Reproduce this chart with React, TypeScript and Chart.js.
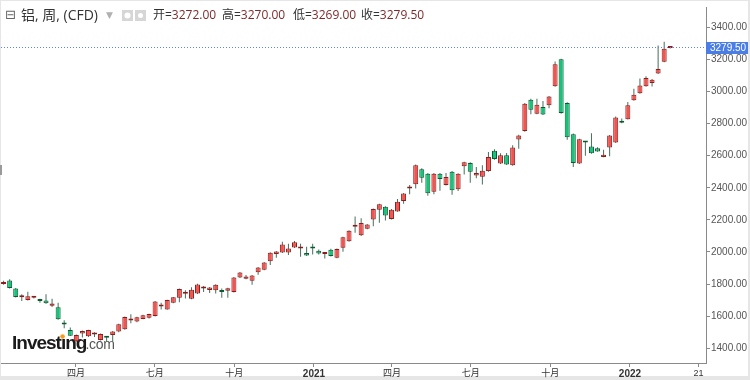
import { useEffect, useRef } from 'react';
import { Chart, registerables } from 'chart.js';

Chart.register(...registerables);

// ---------- data ----------
const firstWeekStart = '2020-01-05';

const opens = [
  1800, 1823, 1772, 1718, 1701, 1715, 1697, 1698, 1665, 1655, 1553, 1513, 1443, 1492, 1474, 1486, 1452, 1470, 1482, 1505,
  1519, 1573, 1566, 1583, 1590, 1601, 1660, 1642, 1683, 1714, 1740, 1708, 1741, 1772, 1763, 1761, 1755, 1759, 1751, 1841,
  1833, 1821, 1874, 1889, 1942, 1987, 1997, 1997, 2028, 2022, 1993, 2026, 2007, 1987, 2014, 1964, 2026, 2067, 2158, 2104,
  2145, 2202, 2264, 2282, 2206, 2252, 2317, 2395, 2422, 2516, 2487, 2375, 2487, 2418, 2500, 2391, 2535, 2555, 2477, 2469,
  2504, 2631, 2551, 2603, 2541, 2701, 2754, 2949, 2861, 2904, 2914, 3033, 3201, 2929, 2734, 2551, 2686, 2658, 2647, 2592,
  2652, 2682, 2818, 2828, 2945, 2990, 3033, 3054, 3113, 3185, 3272,
];
const highs = [
  1820, 1830, 1775, 1736, 1752, 1722, 1708, 1736, 1708, 1683, 1575, 1530, 1485, 1510, 1515, 1500, 1492, 1472, 1508, 1553,
  1598, 1612, 1596, 1608, 1615, 1695, 1683, 1703, 1720, 1772, 1762, 1780, 1802, 1788, 1781, 1799, 1772, 1777, 1844, 1875,
  1856, 1857, 1906, 1938, 1998, 2006, 2063, 2052, 2069, 2052, 2032, 2052, 2015, 2000, 2020, 2021, 2095, 2135, 2221, 2210,
  2175, 2271, 2301, 2285, 2268, 2330, 2367, 2418, 2545, 2522, 2492, 2492, 2492, 2492, 2505, 2490, 2562, 2560, 2530, 2541,
  2623, 2640, 2615, 2617, 2665, 2730, 2928, 2955, 2955, 2941, 2972, 3187, 3205, 2933, 2738, 2706, 2687, 2740, 2653, 2637,
  2729, 2845, 2832, 2935, 3017, 3082, 3095, 3078, 3287, 3310, 3281,
];
const lows = [
  1795, 1772, 1717, 1695, 1698, 1710, 1684, 1678, 1657, 1578, 1525, 1476, 1440, 1467, 1470, 1470, 1448, 1440, 1443, 1500,
  1515, 1556, 1562, 1580, 1585, 1598, 1642, 1640, 1680, 1687, 1710, 1705, 1738, 1751, 1745, 1741, 1714, 1714, 1748, 1838,
  1830, 1796, 1858, 1886, 1919, 1964, 1994, 1981, 2025, 1970, 1975, 1985, 1985, 1960, 1972, 1961, 2001, 2064, 2120, 2100,
  2142, 2161, 2182, 2196, 2203, 2250, 2300, 2360, 2395, 2432, 2350, 2360, 2381, 2415, 2356, 2380, 2483, 2432, 2460, 2421,
  2500, 2575, 2548, 2542, 2538, 2643, 2750, 2858, 2858, 2854, 2896, 3030, 2862, 2699, 2529, 2548, 2600, 2612, 2624, 2590,
  2596, 2680, 2802, 2825, 2942, 2987, 3030, 3031, 3110, 3182, 3269,
];
const closes = [
  1810, 1775, 1720, 1726, 1724, 1717, 1694, 1681, 1679, 1581, 1548, 1478, 1482, 1507, 1513, 1492, 1489, 1465, 1505, 1550,
  1595, 1580, 1593, 1605, 1613, 1692, 1665, 1700, 1718, 1769, 1745, 1765, 1798, 1784, 1778, 1796, 1750, 1774, 1841, 1872,
  1847, 1853, 1903, 1935, 1995, 2003, 2046, 2022, 2060, 2030, 1978, 2022, 1991, 1997, 1975, 2018, 2092, 2132, 2163, 2180,
  2172, 2268, 2298, 2227, 2264, 2313, 2364, 2402, 2541, 2463, 2366, 2487, 2455, 2467, 2385, 2487, 2559, 2500, 2493, 2506,
  2592, 2580, 2603, 2545, 2652, 2726, 2924, 2887, 2918, 2857, 2969, 3170, 2866, 2715, 2555, 2703, 2682, 2615, 2627, 2606,
  2726, 2838, 2805, 2914, 2980, 3037, 3084, 3074, 3140, 3267, 3279.5,
];

const tickDates = ['2020-04-01', '2020-07-01', '2020-10-01', '2021-01-01', '2021-04-01', '2021-07-01', '2021-10-01', '2022-01-01', '2022-03-21'];
const tickLabels = ['四月', '七月', '十月', '2021', '四月', '七月', '十月', '2022', '21'];
const yTickValues = [1400, 1600, 1800, 2000, 2200, 2400, 2600, 2800, 3000, 3200, 3400];
const lastPrice = 3279.5;
const headerTitle = '铝, 周, (CFD)';
const headerLabels = ['开=', '高=', '低=', '收='];
const headerValues = ['3272.00', '3270.00', '3269.00', '3279.50'];

// ---------- helpers ----------
const dayNum = (s: string) => {
  const [y, m, d] = s.split('-').map(Number);
  return (Date.UTC(y, m - 1, d) - Date.UTC(2020, 0, 1)) / 86400000;
};

const UP_FILL = '#f2544f';
const UP_BORDER = '#8c1c1c';
const DOWN_FILL = '#14c47a';
const DOWN_BORDER = '#0b5a32';
const WICK = '#44705a';
const UI_FONT = '"Open Sans", "Noto Sans CJK SC", sans-serif';
const AXIS_FONT = '"Liberation Sans", Arial, "Noto Sans CJK SC", sans-serif';
const LOGO_FONT = '"Liberation Sans", Arial, sans-serif';

export default function App() {
  const ref = useRef<HTMLCanvasElement>(null);

  useEffect(() => {
    document.body.style.margin = '0';
    const canvas = ref.current;
    if (!canvas) return;

    const start = dayNum(firstWeekStart);
    const centers = opens.map((_, i) => start + 7 * i + 3.5);
    const isUp = opens.map((o, i) => closes[i] >= o);

    const bgPlugin = {
      id: 'bg',
      beforeDraw(chart: any) {
        const ctx = chart.ctx;
        ctx.save();
        ctx.fillStyle = '#e6e6e6';
        ctx.fillRect(0, 0, chart.width, chart.height);
        ctx.fillStyle = '#ffffff';
        ctx.fillRect(1, 1, chart.width - 3, chart.height - 5);
        ctx.fillStyle = '#9a9a9a';
        ctx.fillRect(0, 165, 2, 10);
        ctx.restore();
      },
    };

    const logoPlugin = {
      id: 'logo',
      beforeDatasetsDraw(chart: any) {
        const ctx = chart.ctx;
        ctx.save();
        ctx.textBaseline = 'alphabetic';
        ctx.textAlign = 'left';
        ctx.font = `bold 19px ${LOGO_FONT}`;
        try { (ctx as any).letterSpacing = '-1px'; } catch (e) {}
        ctx.fillStyle = '#1b1b1b';
        const x0 = 12;
        const base = 349;
        ctx.fillText('Investing', x0, base);
        const w = ctx.measureText('Investing').width;
        const wi = ctx.measureText('Invest').width;
        const wii = ctx.measureText('i').width;
        ctx.fillStyle = '#ffffff';
        ctx.fillRect(x0 + wi - 0.5, base - 15, wii + 0.5, 4.5);
        ctx.fillStyle = '#f39c1e';
        ctx.beginPath();
        ctx.arc(x0 + wi + wii / 2 - 0.5, base - 12.5, 2.3, 0, Math.PI * 2);
        ctx.fill();
        try { (ctx as any).letterSpacing = '-0.3px'; } catch (e) {}
        ctx.font = `14px ${LOGO_FONT}`;
        ctx.fillStyle = '#555555';
        ctx.fillText('.com', x0 + w - 1, base);
        ctx.restore();
      },
    };

    const overlayPlugin = {
      id: 'overlay',
      afterDraw(chart: any) {
        const ctx = chart.ctx;
        const area = chart.chartArea;
        const yScale = chart.scales.y;
        const yp = Math.round(yScale.getPixelForValue(lastPrice)) + 0.5;
        ctx.save();
        // dotted last price line
        ctx.strokeStyle = '#5f86e6';
        ctx.lineWidth = 1;
        ctx.setLineDash([1, 2]);
        ctx.beginPath();
        ctx.moveTo(area.left, yp);
        ctx.lineTo(area.right, yp);
        ctx.stroke();
        ctx.setLineDash([]);
        // price label
        ctx.fillStyle = '#4a7ee6';
        ctx.fillRect(area.right, yp - 5.5, 42, 12);
        ctx.fillStyle = '#ffffff';
        ctx.font = `10px ${AXIS_FONT}`;
        ctx.textBaseline = 'middle';
        ctx.textAlign = 'left';
        ctx.fillText(lastPrice.toFixed(2), area.right + 4, yp + 0.5);

        // header
        const hy = 16;
        ctx.font = `13px "DejaVu Sans", sans-serif`;
        ctx.fillStyle = '#666666';
        ctx.fillText('⊟', 5, hy);
        ctx.font = `14px ${UI_FONT}`;
        ctx.fillStyle = '#333333';
        ctx.fillText(headerTitle, 21, hy);
        ctx.font = `9px "DejaVu Sans", sans-serif`;
        ctx.fillStyle = '#b0b0b0';
        ctx.fillText('▼', 106, hy);
        // icons
        ctx.fillStyle = '#d6d6d6';
        ctx.fillRect(122, 10, 11, 11);
        ctx.fillRect(135, 10, 11, 11);
        ctx.fillStyle = '#ffffff';
        ctx.beginPath();
        ctx.arc(127.5, 15.5, 3, 0, Math.PI * 2);
        ctx.fill();
        ctx.beginPath();
        ctx.arc(140.5, 15.5, 2.5, 0, Math.PI * 2);
        ctx.fill();
        // fields
        const fx = [153, 222, 293, 361];
        ctx.font = `12px ${UI_FONT}`;
        headerLabels.forEach((lab, i) => {
          ctx.fillStyle = '#333333';
          ctx.fillText(lab, fx[i], hy);
          const lw = ctx.measureText(lab).width;
          ctx.fillStyle = '#7d2a2a';
          ctx.fillText(headerValues[i], fx[i] + lw, hy);
        });
        ctx.restore();
      },
    };

    const chart = new Chart(canvas, {
      type: 'bar',
      data: {
        datasets: [
          {
            label: 'body',
            data: centers.map((x, i) => ({ x, y: [opens[i], closes[i]] })) as any,
            backgroundColor: isUp.map((u) => (u ? UP_FILL : DOWN_FILL)),
            borderColor: isUp.map((u) => (u ? UP_BORDER : DOWN_BORDER)),
            borderWidth: 1,
            borderSkipped: false,
            barThickness: 5,
            minBarLength: 2,
            grouped: false,
            inflateAmount: 0,
            order: 0,
          } as any,
          {
            label: 'wick',
            data: centers.map((x, i) => ({ x, y: [lows[i], highs[i]] })) as any,
            backgroundColor: WICK,
            borderWidth: 0,
            barThickness: 1,
            grouped: false,
            inflateAmount: 0,
            order: 1,
          } as any,
        ],
      },
      options: {
        responsive: false,
        animation: false,
        events: [],
        layout: { padding: { top: 2, left: 1, right: 0, bottom: 0 } },
        plugins: { legend: { display: false }, tooltip: { enabled: false } },
        scales: {
          x: {
            type: 'linear',
            position: 'bottom',
            offset: false,
            min: 4.5,
            max: 818.8,
            afterBuildTicks: (s: any) => {
              s.ticks = tickDates.map((d) => ({ value: dayNum(d) }));
            },
            afterFit: (s: any) => {
              s.height = 17;
            },
            ticks: {
              autoSkip: false,
              maxRotation: 0,
              padding: 1,
              color: '#333333',
              font: (c: any) => {
                const lab = tickLabels[c.index] || '';
                const isYear = /^\d{4}$/.test(lab);
                return { family: AXIS_FONT, size: isYear ? 10 : 9, weight: isYear ? 'bold' : 'normal' };
              },
              callback: (_v: any, i: number) => tickLabels[i],
            },
            grid: { drawOnChartArea: false, drawTicks: true, tickLength: 4, color: '#8a8a8a', offset: false },
            border: { color: '#8a8a8a' },
          },
          y: {
            type: 'linear',
            position: 'right',
            min: 1308,
            max: 3527,
            afterBuildTicks: (s: any) => {
              s.ticks = yTickValues.map((v) => ({ value: v }));
            },
            afterFit: (s: any) => {
              s.width = 44;
            },
            ticks: {
              padding: 1,
              color: '#555555',
              font: { family: AXIS_FONT, size: 10 },
              callback: (v: any) => Number(v).toFixed(2),
            },
            grid: { drawOnChartArea: false, drawTicks: true, tickLength: 4, color: '#8a8a8a' },
            border: { color: '#8a8a8a' },
          },
        },
      } as any,
      plugins: [bgPlugin, logoPlugin, overlayPlugin],
    });

    return () => chart.destroy();
  }, []);

  return (
    <div style={{ position: 'absolute', left: 0, top: 0, width: 750, height: 380 }}>
      <canvas ref={ref} width={750} height={380} style={{ display: 'block', width: 750, height: 380 }} />
    </div>
  );
}
